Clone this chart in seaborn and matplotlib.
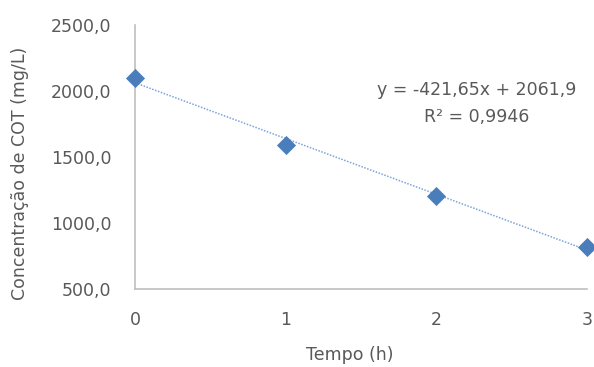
import matplotlib
matplotlib.use("Agg")
import matplotlib.pyplot as plt
import seaborn as sns
import pandas as pd

# values
tempo_h = [0, 1, 2, 3]
cot_mg_l = [2100, 1590, 1205, 820]
y_ticks = [500, 1000, 1500, 2000, 2500]
x_ticks = [0, 1, 2, 3]
eq_text = "y = -421,65x + 2061,9"
r2_text = "R² = 0,9946"

df = pd.DataFrame({"Tempo": tempo_h, "COT": cot_mg_l})

sns.set_theme(style="white")
plt.rcParams['font.family'] = ['DejaVu Sans']
gray = "#595959"
blue = "#4A7EBB"

fig = plt.figure(figsize=(5.94, 3.67), dpi=100)
ax = fig.add_axes([135/594, 1-289/367, (587-135)/594, (289-25)/367])

sns.regplot(data=df, x="Tempo", y="COT", ax=ax, ci=None, marker="D",
            scatter_kws={"s": 95, "color": blue, "alpha": 1, "clip_on": False,
                         "zorder": 3, "linewidths": 0},
            line_kws={"color": "#7FA3D8", "linestyle": (0, (1, 1)), "linewidth": 1.1})

ax.set_xlim(0, 3)
ax.set_ylim(500, 2500)
ax.set_xticks(x_ticks)
ax.set_yticks(y_ticks)
ax.set_yticklabels([f"{v:.1f}".replace(".", ",") for v in y_ticks])
ax.tick_params(axis="both", length=0, labelsize=12.5, labelcolor=gray)
ax.tick_params(axis="y", pad=17)
ax.tick_params(axis="x", pad=16)
ax.set_xlabel("")
ax.set_ylabel("")

for side in ["top", "right"]:
    ax.spines[side].set_visible(False)
for side in ["left", "bottom"]:
    ax.spines[side].set_color("#BFBFBF")
    ax.spines[side].set_linewidth(1.2)

ax.text(477/594, 1-90/367, eq_text, transform=fig.transFigure, ha="center", va="center",
        fontsize=12.5, color=gray)
ax.text(477/594, 1-117/367, r2_text, transform=fig.transFigure, ha="center", va="center",
        fontsize=12.5, color=gray)

fig.text(20/594, 1-173/367, "Concentração de COT (mg/L)", rotation=90, ha="center", va="center",
         fontsize=12.5, color=gray)
fig.text(350/594, 1-355/367, "Tempo (h)", ha="center", va="center", fontsize=12.5, color=gray)

fig.savefig("out.png", dpi=100)
